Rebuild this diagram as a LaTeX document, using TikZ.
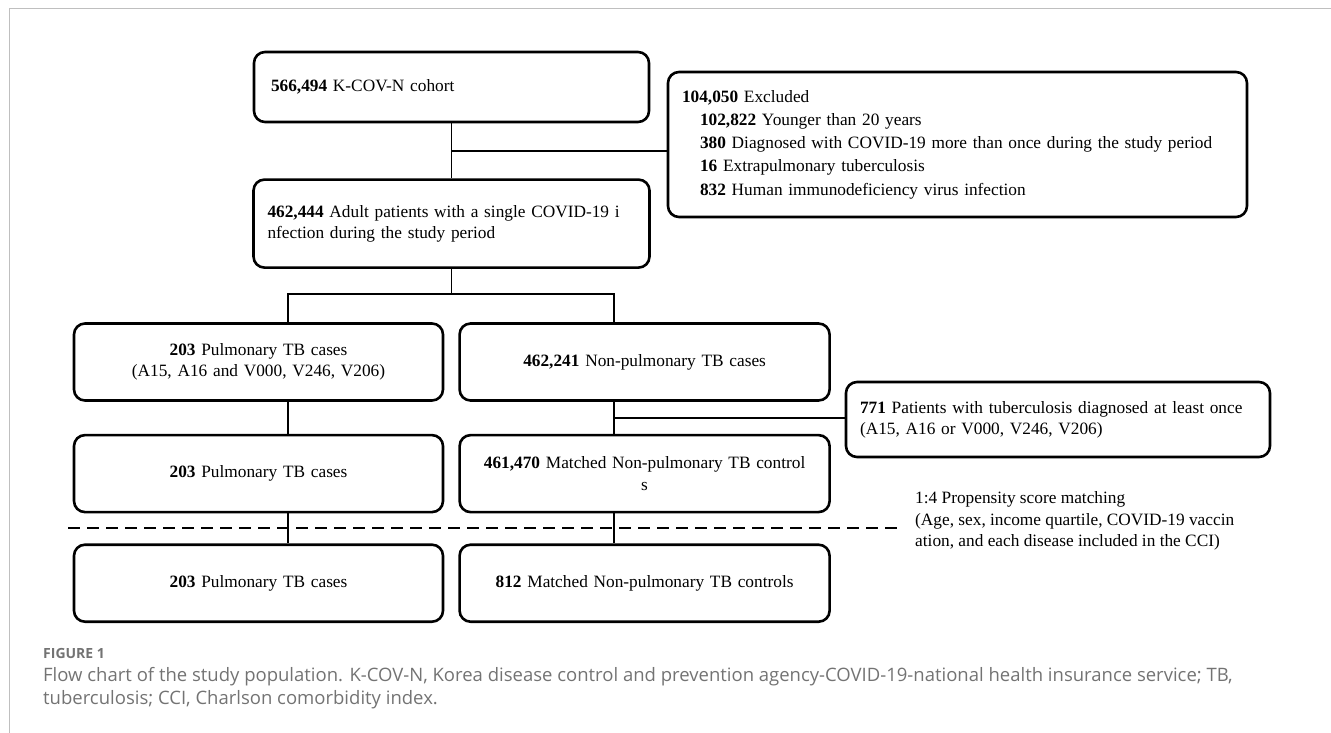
\documentclass[tikz,border=0pt]{standalone}
\usepackage{fontspec}
\setmainfont{Liberation Serif}
\newfontfamily\capfont{Open Sans}
\usetikzlibrary{positioning, calc}

\begin{document}
\begin{tikzpicture}[
    x=1pt, y=-1pt, node distance=30pt,
    box/.style={rectangle, draw, line width=2.6pt, rounded corners=11pt,
                inner xsep=17pt, inner ysep=0pt, align=center,
                font=\fontsize{17.3}{21.3}\selectfont},
    col/.style={box, inner xsep=12pt, minimum width=369pt, text width=345pt,
                minimum height=77pt},
    link/.style={line width=1.8pt},
    matchline/.style={line width=2.6pt, dash pattern=on 12pt off 7pt},
    pageframe/.style={line width=1.2pt, black!25},
    captext/.style={font=\capfont\fontsize{18.5}{23}\selectfont, text=black!55,
                inner sep=0pt, anchor=west, align=left}
]
  \useasboundingbox (0,0) rectangle (1331,733);
  \draw[pageframe] (9.5,733) -- (9.5,8.5) -- (1331,8.5);

  % top of the chart
  \node[box, minimum width=395pt, text width=361pt, minimum height=70pt, align=left]
      (b1) at (451.5,87) {\textbf{566,494} K-COV-N cohort};
  \node[box, below=55pt of b1, inner xsep=14pt, minimum width=396pt, text width=368pt,
        minimum height=88pt, align=left]
      (b2) {\textbf{462,444} Adult patients with a single COVID-19 i\\nfection during the study period};
  \node[box, inner xsep=14pt, minimum width=579pt, text width=551pt, minimum height=145pt,
        align=left, font=\fontsize{17.3}{23.3}\selectfont]
      (ex) at (957.5,144.5) {\textbf{104,050} Excluded\\
        \hspace*{18pt}\textbf{102,822} Younger than 20 years\\
        \hspace*{18pt}\textbf{380} Diagnosed with COVID-19 more than once during the study period\\
        \hspace*{18pt}\textbf{16} Extrapulmonary tuberculosis\\
        \hspace*{18pt}\textbf{832} Human immunodeficiency virus infection};

  % two columns
  \node[col] (p1) at (258.5,362) {\textbf{203} Pulmonary TB cases\\(A15, A16 and V000, V246, V206)};
  \node[col, right=14pt of p1, minimum width=370pt] (n1) {\textbf{462,241} Non-pulmonary TB cases};
  \node[col, below=32pt of p1] (p2) {\textbf{203} Pulmonary TB cases};
  \node[col, below=32pt of n1, minimum width=370pt] (n2) {\textbf{461,470} Matched Non-pulmonary TB control\\s};
  \node[col, below=30pt of p2] (p3) {\textbf{203} Pulmonary TB cases};
  \node[col, below=30pt of n2, minimum width=370pt] (n3) {\textbf{812} Matched Non-pulmonary TB controls};

  \node[box, inner xsep=14pt, minimum width=424pt, text width=396pt, minimum height=75pt,
        align=left]
      (tb) at (1058,419.5) {\textbf{771} Patients with tuberculosis diagnosed at least once\\(A15, A16 or V000, V246, V206)};
  \node[anchor=west, align=left, inner sep=0pt, font=\fontsize{17.3}{21.3}\selectfont]
      (psm) at (915,521) {1:4 Propensity score matching\\(Age, sex, income quartile, COVID-19 vaccin\\ation, and each disease included in the CCI)};

  % connectors
  \coordinate (jx) at ($(b1.south)!0.5!(b2.north)$);
  \coordinate (lx) at (288,294);
  \coordinate (rx) at (614,294);
  \coordinate (jy) at ($(n1.south)!0.5!(n2.north)$);

  \draw[link] (b1.south) -- (b1.south |- b2.north);
  \draw[link] (b1.south |- jx) -- (jx -| ex.west);
  \draw[link] (b2.south) -- (b2.south |- lx);
  \draw[link] (lx |- p1.north) -- (lx) -- (rx) -- (rx |- n1.north);
  \draw[link] (lx |- p1.south) -- (lx |- p2.north);
  \draw[link] (lx |- p2.south) -- (lx |- p3.north);
  \draw[link] (rx |- n1.south) -- (rx |- n2.north);
  \draw[link] (rx |- n2.south) -- (rx |- n3.north);
  \draw[link] (rx |- jy) -- (jy -| tb.west);

  % matching line
  \coordinate (dl) at (68,528);
  \coordinate (dr) at (897,528);
  \draw[matchline] (dl) -- (dr);

  % caption
  \node[captext, font=\capfont\bfseries\fontsize{14}{16}\selectfont] (fig) at (43,653) {FIGURE 1};
  \node[captext] (txt) at (43,688) {Flow chart of the study population. K-COV-N, Korea disease control and prevention agency-COVID-19-national health insurance service; TB,\\tuberculosis; CCI, Charlson comorbidity index.};
\end{tikzpicture}
\end{document}
